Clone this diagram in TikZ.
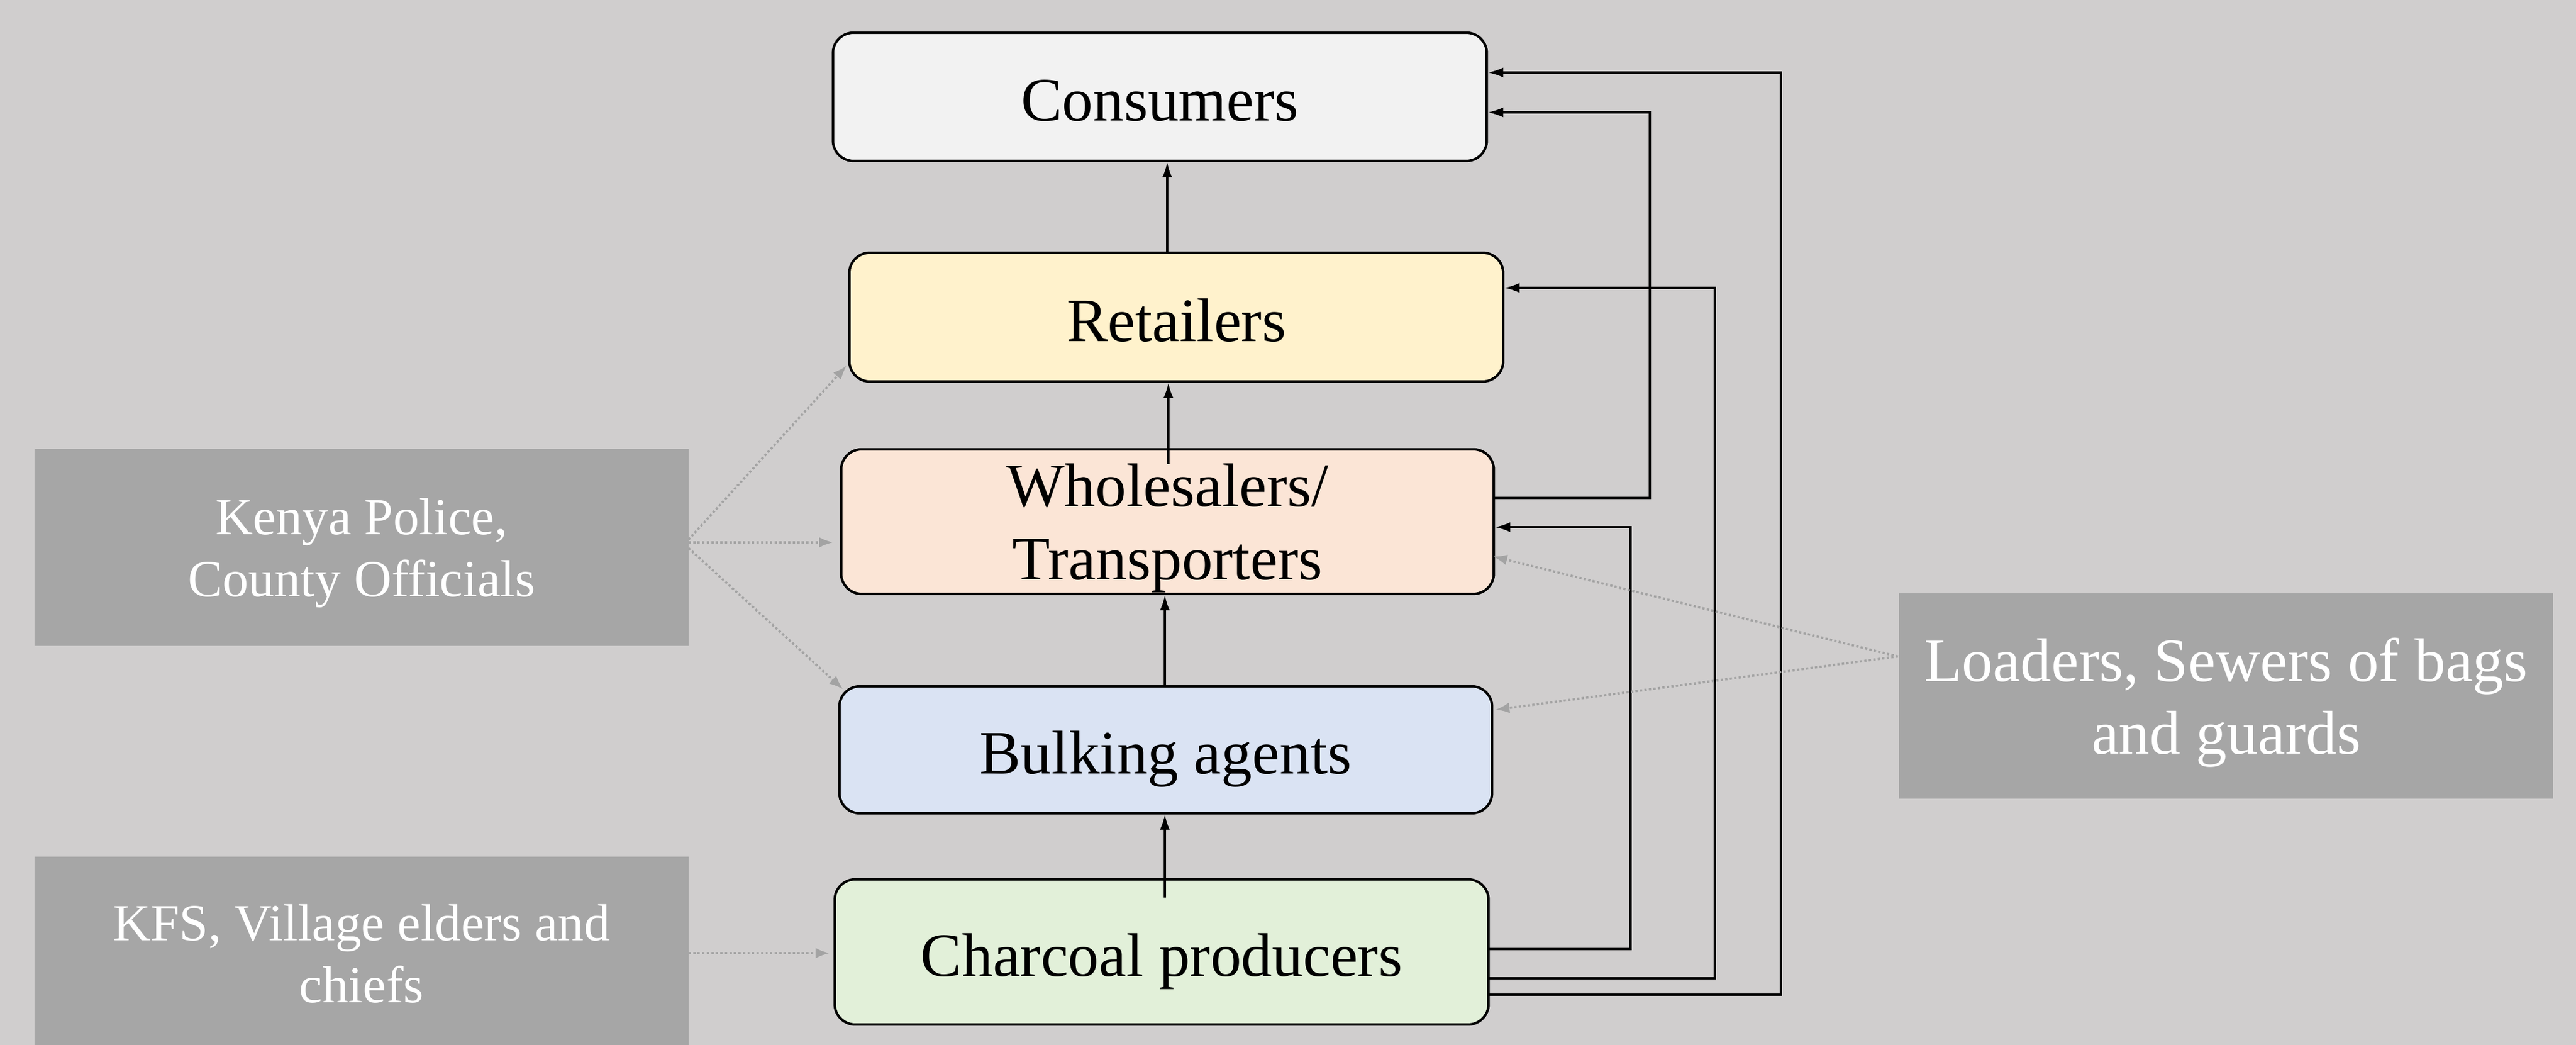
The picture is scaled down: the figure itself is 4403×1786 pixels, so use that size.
\documentclass[tikz,border=0pt]{standalone}
\usepackage{fontspec}
\setmainfont{Liberation Serif}
\usetikzlibrary{arrows.meta}
\definecolor{bg}{HTML}{D0CECE}
\definecolor{gboxc}{HTML}{A6A6A6}
\definecolor{dotc}{HTML}{A3A3A3}
\definecolor{consc}{HTML}{F2F2F2}
\definecolor{retc}{HTML}{FFF2CC}
\definecolor{whoc}{HTML}{FBE5D6}
\definecolor{bulc}{HTML}{DAE3F3}
\definecolor{chac}{HTML}{E2F0D9}
\begin{document}
\begin{tikzpicture}[x=0.01cm,y=-0.01cm,
  box/.style={draw=black, line width=1.2pt, rounded corners=0.35cm, inner sep=0pt, align=center,
    font=\fontsize{30}{35.4}\selectfont},
  onebox/.style={box, text height=23.5pt, text depth=0pt},
  gbox/.style={fill=gboxc, inner sep=0pt, align=center, text=white, minimum width=11.18cm},
  flow/.style={line width=0.9pt, -{Latex[length=0.26cm,width=0.17cm]}},
  dots/.style={draw=dotc, line width=1.1pt, dash pattern=on 1.1pt off 1.1pt,
    -{Latex[length=0.24cm,width=0.18cm]}, dotc}]
\useasboundingbox (0,0) rectangle (4403,1786);
\clip (0,0) rectangle (4403,1786);
\fill[bg] (0,0) rectangle (4403,1786);

% main chain
\node[onebox, fill=consc, minimum width=11.17cm, minimum height=2.19cm] (co) at (1982.5,165.5) {Consumers};
\node[onebox, fill=retc, minimum width=11.17cm, minimum height=2.2cm] (re) at (2010.5,542) {Retailers};
\node[box, fill=whoc, minimum width=11.15cm, minimum height=2.47cm, text depth=-4pt] (wh) at (1995.5,891.5) {Wholesalers/\\Transporters};
\node[onebox, fill=bulc, minimum width=11.15cm, minimum height=2.17cm] (bu) at (1992.5,1281.5) {Bulking agents};
\node[onebox, fill=chac, minimum width=11.17cm, minimum height=2.48cm] (ch) at (1985.5,1627) {Charcoal producers};

% side boxes
\node[gbox, minimum height=3.37cm, text depth=-9.5pt, font=\fontsize{25.3}{30.3}\selectfont] (kp) at (618,935.5) {Kenya Police,\\County Officials};
\node[gbox, minimum height=3.32cm, font=\fontsize{25.3}{30.3}\selectfont] (kf) at (618,1630) {KFS, Village elders and\\chiefs};
\node[gbox, minimum height=3.51cm, text depth=-4pt, font=\fontsize{30}{35.4}\selectfont] (lo) at (3805,1189.5) {Loaders, Sewers of bags\\and guards};

% vertical flows
\coordinate (v1) at (1995,0);
\draw[flow] (re.north -| v1) -- (co.south -| v1);
\coordinate (v2) at (1997,793);
\draw[flow] (v2) -- (re.south -| v2);
\coordinate (v3) at (1991,0);
\draw[flow] (bu.north -| v3) -- (wh.south -| v3);
\coordinate (v4) at (1991,1534);
\draw[flow] (v4) -- (bu.south -| v4);

% right-side bypass flows
\coordinate (pA) at (3044,124);  \coordinate (qA) at (3044,1700);
\draw[flow] (ch.east |- qA) -- (qA) -- (pA) -- (co.east |- pA);
\coordinate (pB) at (2931,492);  \coordinate (qB) at (2931,1672);
\draw[flow] (ch.east |- qB) -- (qB) -- (pB) -- (re.east |- pB);
\coordinate (pC) at (2787,901);  \coordinate (qC) at (2787,1622);
\draw[flow] (ch.east |- qC) -- (qC) -- (pC) -- (wh.east |- pC);
\coordinate (pD) at (2820,192);  \coordinate (qD) at (2820,851);
\draw[flow] (wh.east |- qD) -- (qD) -- (pD) -- (co.east |- pD);

% dotted influence arrows
\coordinate (k0) at (1177,922);
\coordinate (k1) at (1177,927);
\coordinate (k2) at (1177,937);
\coordinate (t1) at (1447,625);
\coordinate (t2) at (1424,927);
\coordinate (t3) at (1441,1178);
\draw[dots] (k0) -- (t1);
\draw[dots] (k1) -- (t2);
\draw[dots] (k2) -- (t3);
\coordinate (f0) at (1177,1629);
\coordinate (f1) at (1418,1629);
\draw[dots] (f0) -- (f1);
\coordinate (l0) at (3244,1122);
\coordinate (l1) at (2552,951);
\coordinate (l2) at (2556,1213);
\draw[dots] (l0) -- (l1);
\draw[dots] (l0) -- (l2);
\end{tikzpicture}
\end{document}
